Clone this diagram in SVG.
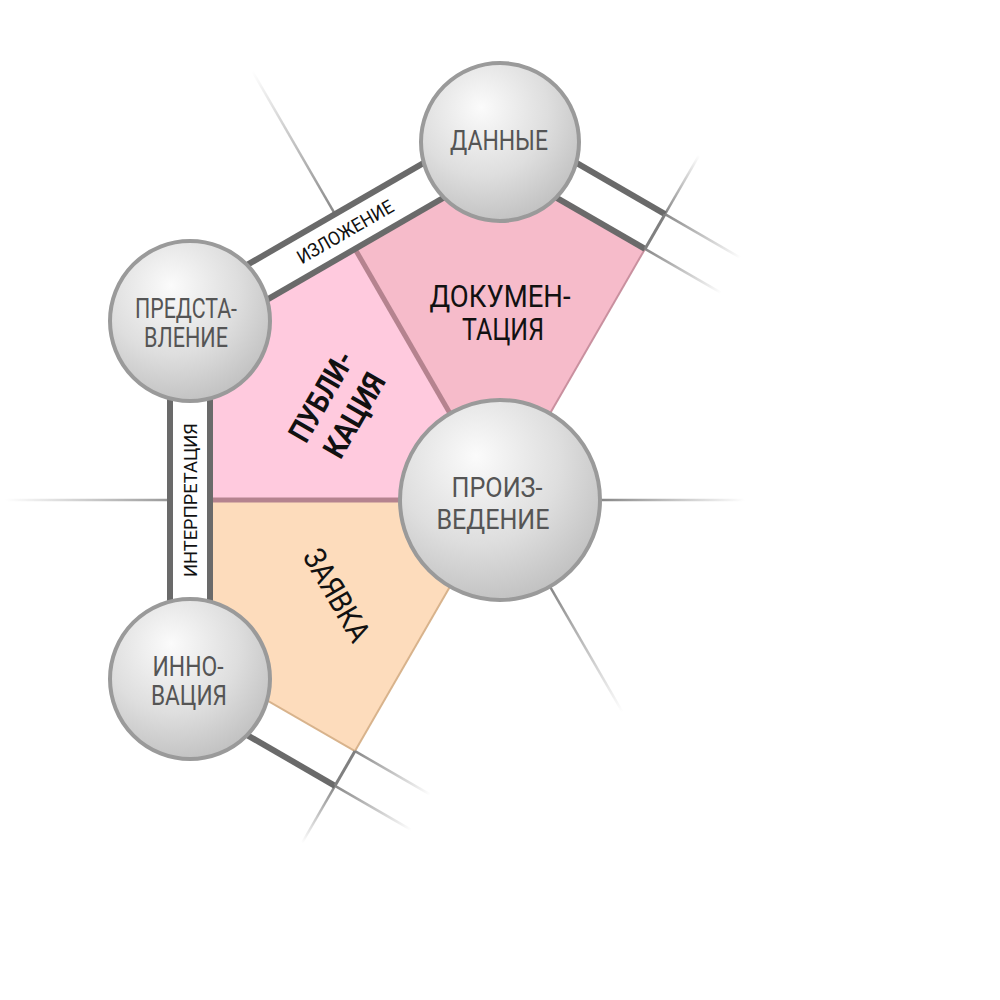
<svg xmlns="http://www.w3.org/2000/svg" width="1000" height="1000" viewBox="0 0 1000 1000">
<defs>
<radialGradient id="ball" cx="0.4" cy="0.32" r="0.75" fx="0.38" fy="0.28">
<stop offset="0" stop-color="#fbfbfb"/>
<stop offset="0.55" stop-color="#dedede"/>
<stop offset="1" stop-color="#bdbdbd"/>
</radialGradient>
<linearGradient id="g60" gradientUnits="userSpaceOnUse" x1="665" y1="214.2" x2="699" y2="155.3"><stop offset="0" stop-color="#888"/><stop offset="1" stop-color="#888" stop-opacity="0"/></linearGradient>
<linearGradient id="gD1" gradientUnits="userSpaceOnUse" x1="665" y1="214.2" x2="740.3" y2="257.7"><stop offset="0" stop-color="#888"/><stop offset="1" stop-color="#888" stop-opacity="0"/></linearGradient>
<linearGradient id="gD2" gradientUnits="userSpaceOnUse" x1="645" y1="248.9" x2="721.2" y2="292.9"><stop offset="0" stop-color="#888"/><stop offset="1" stop-color="#888" stop-opacity="0"/></linearGradient>
<linearGradient id="g120" gradientUnits="userSpaceOnUse" x1="335" y1="214.2" x2="252.5" y2="71.3"><stop offset="0" stop-color="#888"/><stop offset="1" stop-color="#888" stop-opacity="0"/></linearGradient>
<linearGradient id="g180" gradientUnits="userSpaceOnUse" x1="170" y1="500" x2="5" y2="500"><stop offset="0" stop-color="#999"/><stop offset="1" stop-color="#999" stop-opacity="0"/></linearGradient>
<linearGradient id="g0" gradientUnits="userSpaceOnUse" x1="602" y1="500" x2="745" y2="500"><stop offset="0" stop-color="#888"/><stop offset="1" stop-color="#888" stop-opacity="0"/></linearGradient>
<linearGradient id="g300" gradientUnits="userSpaceOnUse" x1="551" y1="588.3" x2="622.5" y2="712.2"><stop offset="0" stop-color="#888"/><stop offset="1" stop-color="#888" stop-opacity="0"/></linearGradient>
<linearGradient id="g240" gradientUnits="userSpaceOnUse" x1="335" y1="785.8" x2="302" y2="843"><stop offset="0" stop-color="#888"/><stop offset="1" stop-color="#888" stop-opacity="0"/></linearGradient>
<linearGradient id="gI1" gradientUnits="userSpaceOnUse" x1="355" y1="751.1" x2="430.3" y2="794.6"><stop offset="0" stop-color="#888"/><stop offset="1" stop-color="#888" stop-opacity="0"/></linearGradient>
<linearGradient id="gI2" gradientUnits="userSpaceOnUse" x1="335" y1="785.8" x2="411.2" y2="829.8"><stop offset="0" stop-color="#888"/><stop offset="1" stop-color="#888" stop-opacity="0"/></linearGradient>
</defs>
<style>
.ball{fill:url(#ball);stroke:#9a9a9a;stroke-width:4}
.nl{font-family:Roboto,"Liberation Sans",sans-serif;font-size:27px;fill:#555;text-anchor:middle}
.sl{font-family:Roboto,"Liberation Sans",sans-serif;font-size:31px;fill:#111;text-anchor:middle}
.bl{font-family:Roboto,"Liberation Sans",sans-serif;font-size:19px;fill:#111;text-anchor:middle}
.band{stroke:#6a6a6a;stroke-width:6;fill:none}
.cut{stroke:#808080;stroke-width:3;fill:none}
.fade{stroke-width:2.5;fill:none}
.div{stroke:#b5838f;stroke-width:5;fill:none}
.thinm{stroke:#c9909f;stroke-width:2;fill:none}
.thint{stroke:#d8b38c;stroke-width:2;fill:none}
</style>
<rect width="1000" height="1000" fill="#fff"/>

<g id="sector-documentation">
<polygon points="500,500 645,248.9 500,165.1 355,248.9" fill="#f6bbca"/>
<line class="thinm" x1="500" y1="500" x2="645" y2="248.9"/>
<text class="sl" x="500" y="307" textLength="141" lengthAdjust="spacingAndGlyphs">ДОКУМЕН-</text>
<text class="sl" x="503" y="340" textLength="82" lengthAdjust="spacingAndGlyphs">ТАЦИЯ</text>
</g>
<g id="sector-publication">
<polygon points="500,500 355,248.9 210,332.6 210,500" fill="#ffcade"/>
<g transform="translate(338,406) rotate(-60)">
<text class="sl" x="0" y="-8.5" font-weight="bold" textLength="99" lengthAdjust="spacingAndGlyphs">ПУБЛИ-</text>
<text class="sl" x="0" y="29.5" font-weight="bold" textLength="92" lengthAdjust="spacingAndGlyphs">КАЦИЯ</text>
</g>
</g>
<g id="sector-application">
<polygon points="500,500 210,500 210,667.4 355,751.1" fill="#fddcbc"/>
<line class="thint" x1="500" y1="500" x2="355" y2="751.1"/>
<line class="thint" x1="210" y1="667.4" x2="355" y2="751.1"/>
<text class="sl" transform="translate(337,595) rotate(60)" x="0" y="11" textLength="102" lengthAdjust="spacingAndGlyphs">ЗАЯВКА</text>
</g>
<g id="dividers">
<line class="div" x1="500" y1="500" x2="355" y2="248.9"/>
<line class="div" x1="500" y1="500" x2="210" y2="500"/>
</g>

<g id="connectors">
<line class="fade" stroke="url(#g60)" x1="665" y1="214.2" x2="699" y2="155.3"/>
<line class="fade" stroke="url(#gD1)" x1="665" y1="214.2" x2="740.3" y2="257.7"/>
<line class="fade" stroke="url(#gD2)" x1="645" y1="248.9" x2="721.2" y2="292.9"/>
<line class="fade" stroke="url(#g120)" x1="335" y1="214.2" x2="252.5" y2="71.3"/>
<line class="fade" stroke="url(#g180)" x1="170" y1="500" x2="5" y2="500"/>
<line class="fade" stroke="url(#g0)" x1="600" y1="500" x2="745" y2="500"/>
<line class="fade" stroke="url(#g300)" x1="550" y1="586.6" x2="622.5" y2="712.2"/>
<line class="fade" stroke="url(#g240)" x1="335" y1="785.8" x2="302" y2="843"/>
<line class="fade" stroke="url(#gI1)" x1="355" y1="751.1" x2="430.3" y2="794.6"/>
<line class="fade" stroke="url(#gI2)" x1="335" y1="785.8" x2="411.2" y2="829.8"/>

<g id="band-izlozhenie">
<line class="band" x1="161.8" y1="314.2" x2="508.2" y2="114.2"/>
<line class="band" x1="181.8" y1="348.9" x2="528.2" y2="148.9"/>
<text class="bl" transform="translate(345,231.5) rotate(-30)" x="0" y="7" textLength="108" lengthAdjust="spacingAndGlyphs">ИЗЛОЖЕНИЕ</text>
</g>
<g id="band-interpretatsiya">
<line class="band" x1="170" y1="321" x2="170" y2="679"/>
<line class="band" x1="210" y1="321" x2="210" y2="679"/>
<text class="bl" transform="translate(190,500) rotate(-90)" x="0" y="7" textLength="154" lengthAdjust="spacingAndGlyphs">ИНТЕРПРЕТАЦИЯ</text>
</g>
<g id="band-data">
<line class="band" stroke="#707070" stroke-width="4.5" x1="500.5" y1="119" x2="665" y2="214.2"/>
<line class="band" stroke="#707070" stroke-width="4.5" x1="500" y1="165.1" x2="645" y2="248.9"/>
<line class="cut" x1="645" y1="248.9" x2="665" y2="214.2"/>
</g>
<g id="band-innovation">
<line class="band" stroke="#707070" stroke-width="4.5" x1="161.8" y1="685.8" x2="335" y2="785.8"/>
<line class="cut" x1="355" y1="751.1" x2="335" y2="785.8"/>
</g>
</g>

<g id="node-data">
<circle class="ball" cx="500" cy="142" r="79"/>
<text class="nl" x="499" y="150" textLength="98" lengthAdjust="spacingAndGlyphs">ДАННЫЕ</text>
</g>
<g id="node-representation">
<circle class="ball" cx="190" cy="321" r="80"/>
<text class="nl" x="186" y="318" textLength="102" lengthAdjust="spacingAndGlyphs">ПРЕДСТА-</text>
<text class="nl" x="186" y="347" textLength="84" lengthAdjust="spacingAndGlyphs">ВЛЕНИЕ</text>
</g>
<g id="node-innovation">
<circle class="ball" cx="190" cy="679" r="80"/>
<text class="nl" x="188" y="676" textLength="71" lengthAdjust="spacingAndGlyphs">ИННО-</text>
<text class="nl" x="189" y="705" textLength="76" lengthAdjust="spacingAndGlyphs">ВАЦИЯ</text>
</g>
<g id="node-work">
<circle class="ball" cx="500" cy="500" r="100"/>
<text class="nl" x="497" y="497" font-size="28" textLength="91" lengthAdjust="spacingAndGlyphs">ПРОИЗ-</text>
<text class="nl" x="493" y="529" font-size="28" textLength="113" lengthAdjust="spacingAndGlyphs">ВЕДЕНИЕ</text>
</g>
</svg>
